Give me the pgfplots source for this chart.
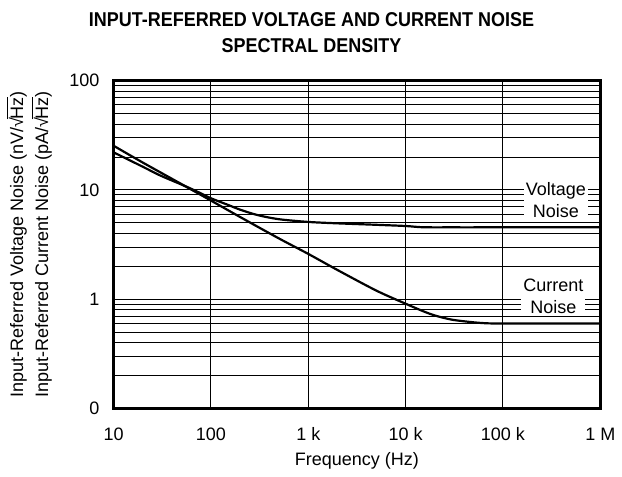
\documentclass[border=0pt]{standalone}
\usepackage{pgfplots}
\pgfplotsset{compat=1.18}
\usepackage{fontspec}
\setmainfont{Liberation Sans}
\newfontfamily\titlefont{Liberation Sans}[FakeStretch=0.9]
\newcommand{\rtHz}{\mbox{√\kern-0.08em$\overline{\mbox{Hz}}$}}

\begin{document}
\begin{tikzpicture}
\begin{axis}[
    scale only axis,
    width=243.5pt, height=164pt,
    xmode=log, ymode=log,
    xmin=10, xmax=1e6, ymin=0.1, ymax=100,
    xtick={10,100,1000,10000,100000,1000000},
    xticklabels={10,100,1 k,10 k,100 k,1 M},
    ytick={0.1,1,10,100},
    yticklabels={0,1,10,100},
    minor ytick={0.2,0.3,0.4,0.5,0.6,0.7,0.8,0.9,2,3,4,5,6,7,8,9,20,30,40,50,60,70,80,90},
    minor xtick={},
    major tick length=0pt, minor tick length=0pt,
    xmajorgrids, ymajorgrids, yminorgrids,
    grid style={black, line width=0.5pt},
    minor grid style={black, line width=0.5pt},
    axis line style={line width=1.3pt},
    font=\fontsize{9pt}{11pt}\selectfont,
    /pgf/number format/assume math mode=true,
    xticklabel style={yshift=-5.5pt, text height=6.8pt, text depth=0pt},
    yticklabel style={xshift=-3.5pt},
    xlabel={Frequency (Hz)},
    xlabel style={yshift=0.5pt},
    ylabel={Input-Referred Voltage Noise (nV/\rtHz)\\Input-Referred Current Noise (pA/\rtHz)},
    ylabel style={align=center, font=\fontsize{9pt}{12.5pt}\selectfont, yshift=2pt},
    title={\rule{0pt}{9.9pt}INPUT-REFERRED VOLTAGE AND CURRENT NOISE\\SPECTRAL DENSITY},
    title style={align=center, font=\fontsize{10pt}{13pt}\selectfont\titlefont\bfseries,
        at={(rel axis cs:0.4066,1)}, anchor=south, yshift=4.5pt},
]
% voltage noise
\addplot[black, line width=1.1pt, smooth] coordinates {
    (10,22.1) (20,16.3) (30,13.6) (50,11.2) (70,9.8) (100,8.4) (150,7.3)
    (200,6.6) (300,5.9) (500,5.4) (1000,5.1) (2000,4.95) (5000,4.8)
    (10000,4.68) (15000,4.56) (30000,4.55) (100000,4.55) (1000000,4.55)
};
% current noise
\addplot[black, line width=1.1pt, smooth] coordinates {
    (10,25.4) (20,17.8) (50,11.3) (100,8.0) (200,5.65) (500,3.6)
    (1000,2.6) (2000,1.85) (5000,1.2) (10000,0.91) (15000,0.78)
    (20000,0.71) (30000,0.65) (50000,0.615) (70000,0.602) (100000,0.6)
    (300000,0.6) (1000000,0.6)
};
\node[fill=white, inner sep=1pt, align=center] at (axis cs:3.5e5,8.1) {Voltage\\Noise};
\node[fill=white, inner sep=1pt, align=center] at (axis cs:3.3e5,1.06) {Current\\Noise};
\end{axis}
\end{tikzpicture}
\end{document}
